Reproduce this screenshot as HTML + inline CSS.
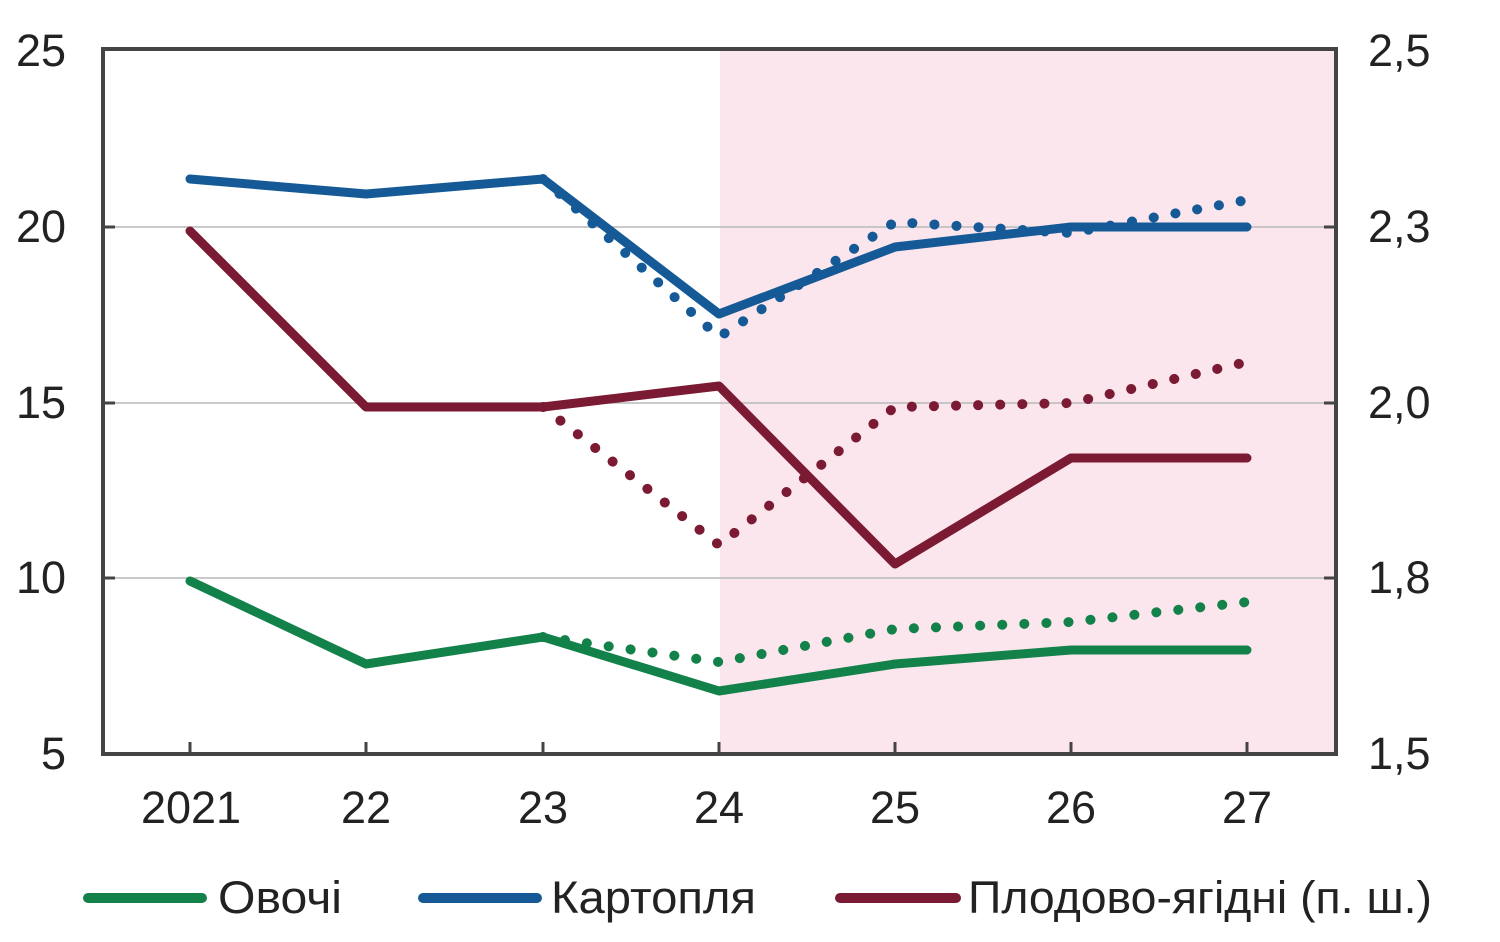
<!DOCTYPE html>
<html><head><meta charset="utf-8"><style>
html,body{margin:0;padding:0;background:#fff;}
svg{display:block;}
text{font-family:"Liberation Sans",sans-serif;fill:#222;}
</style></head><body>
<svg width="1500" height="942" viewBox="0 0 1500 942" xmlns="http://www.w3.org/2000/svg">
<rect x="720" y="50" width="616" height="703" fill="#fce6ee"/>
<g stroke="#b8b8b8" stroke-width="1.5">
<line x1="103" y1="227" x2="1336" y2="227"/>
<line x1="103" y1="403" x2="1336" y2="403"/>
<line x1="103" y1="578" x2="1336" y2="578"/>
</g>
<rect x="103" y="49" width="1233" height="705" fill="none" stroke="#444" stroke-width="4"/>
<g stroke="#444" stroke-width="3">
<line x1="190" y1="754" x2="190" y2="742"/><line x1="366" y1="754" x2="366" y2="742"/>
<line x1="543" y1="754" x2="543" y2="742"/><line x1="719" y1="754" x2="719" y2="742"/>
<line x1="895" y1="754" x2="895" y2="742"/><line x1="1071" y1="754" x2="1071" y2="742"/>
<line x1="1247" y1="754" x2="1247" y2="742"/>
<line x1="1336" y1="227" x2="1324" y2="227"/><line x1="1336" y1="403" x2="1324" y2="403"/><line x1="1336" y1="578" x2="1324" y2="578"/>
<line x1="103" y1="227" x2="115" y2="227"/><line x1="103" y1="403" x2="115" y2="403"/><line x1="103" y1="578" x2="115" y2="578"/>
</g>
<g fill="none" stroke-linecap="round" stroke-linejoin="round">
<polyline points="543,179 719,337 895,222 1071,233 1247,200" stroke="#155a96" stroke-width="10" stroke-dasharray="0.1 22"/>
<polyline points="543,407 719,545 895,407 1071,403 1247,362" stroke="#7b1a33" stroke-width="10" stroke-dasharray="0.1 22"/>
<polyline points="543,637 719,662 895,629 1071,622 1247,602" stroke="#13814a" stroke-width="10" stroke-dasharray="0.1 22"/>
<polyline points="190,179 366,194 543,179 719,314 895,247 1071,227 1247,227" stroke="#155a96" stroke-width="9"/>
<polyline points="190,231 366,407 543,407 719,386 895,564 1071,458 1247,458" stroke="#7b1a33" stroke-width="9"/>
<polyline points="190,581 366,664 543,637 719,691 895,664 1071,650 1247,650" stroke="#13814a" stroke-width="9"/>
</g>
<g font-size="45" text-anchor="end">
<text x="66" y="66">25</text><text x="66" y="242">20</text><text x="66" y="418">15</text>
<text x="66" y="593">10</text><text x="66" y="769">5</text>
</g>
<g font-size="45" text-anchor="start">
<text x="1368" y="66">2,5</text><text x="1368" y="242">2,3</text><text x="1368" y="418">2,0</text>
<text x="1368" y="593">1,8</text><text x="1368" y="769">1,5</text>
</g>
<g font-size="45" text-anchor="middle">
<text x="191" y="823">2021</text><text x="366" y="823">22</text><text x="543" y="823">23</text>
<text x="719" y="823">24</text><text x="895" y="823">25</text><text x="1071" y="823">26</text><text x="1247" y="823">27</text>
</g>
<g stroke-linecap="round" stroke-width="10">
<line x1="88" y1="898" x2="202" y2="898" stroke="#13814a"/>
<line x1="423" y1="898" x2="537" y2="898" stroke="#155a96"/>
<line x1="840" y1="898" x2="956" y2="898" stroke="#7b1a33"/>
</g>
<g font-size="45">
<text x="218" y="913" textLength="124" lengthAdjust="spacingAndGlyphs">Овочі</text>
<text x="551" y="913" textLength="205" lengthAdjust="spacingAndGlyphs">Картопля</text>
<text x="968" y="913" textLength="464" lengthAdjust="spacingAndGlyphs">Плодово-ягідні (п. ш.)</text>
</g>
</svg>
</body></html>
